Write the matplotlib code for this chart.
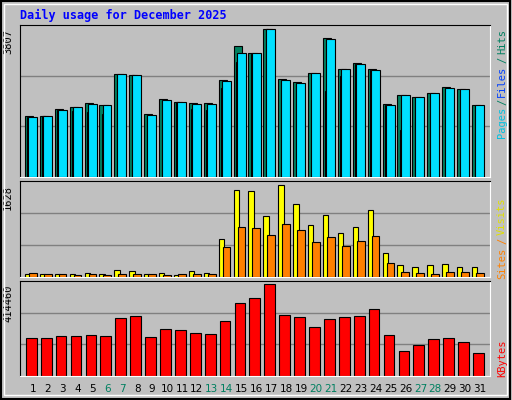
import numpy as np
import matplotlib
matplotlib.use("Agg")
import matplotlib.pyplot as plt
from matplotlib.patches import Rectangle

days = np.arange(1, 32)
hits = [1559, 1559, 1748, 1792, 1895, 1843, 2644, 2618, 1611, 1998, 1921, 1895, 1895, 2489, 3368, 3187,
        3807, 2515, 2437, 2670, 3574, 2773, 2928, 2773, 1869, 2102, 2050, 2153, 2308, 2257, 1843]
files = [1533, 1559, 1714, 1792, 1869, 1843, 2644, 2618, 1585, 1972, 1921, 1869, 1869, 2463, 3187, 3187,
         3807, 2489, 2412, 2670, 3549, 2773, 2903, 2748, 1843, 2102, 2050, 2153, 2282, 2257, 1843]
pages = [1533, 1559, 1714, 1697, 1671, 1619, 2498, 2618, 1585, 1972, 1921, 1748, 1714, 2282, 2963, 3170,
         3807, 2489, 2412, 1981, 2205, 2601, 2903, 2748, 1843, 1206, 1413, 1593, 1671, 1464, 1120]
visits = [59, 59, 59, 59, 76, 59, 129, 112, 59, 76, 41, 112, 76, 676, 1540, 1522,
          1081, 1628, 1293, 923, 1099, 782, 887, 1187, 429, 217, 182, 217, 235, 182, 182]
sites = [76, 59, 59, 41, 59, 41, 59, 59, 59, 41, 59, 59, 59, 535, 887, 870,
         746, 940, 835, 623, 711, 552, 641, 729, 253, 94, 76, 59, 94, 94, 76]
kbytes = [173949, 173949, 183025, 183025, 187562, 183025, 260167, 269243, 178487, 214789, 210251,
          196638, 192100, 246554, 328234, 350923, 414460, 273781, 264705, 219327, 255629, 264705,
          269243, 301007, 187562, 114958, 142184, 169411, 173949, 155798, 105882]
weekend = [6, 7, 13, 14, 20, 21, 27, 28]

BG = "#c0c0c0"
MONO = "DejaVu Sans Mono"
fig = plt.figure(figsize=(5.12, 4.0), dpi=100, facecolor=BG)
fig.patches.append(Rectangle((0.002, 0.003), 0.995, 0.994, transform=fig.transFigure,
                             fill=False, ec="black", lw=1.5))
fig.patches.append(Rectangle((0.008, 0.012), 0.982, 0.978, transform=fig.transFigure,
                             fill=False, ec="white", lw=1.0))

X0, W = 20 / 512, 470 / 512
def mkax(top_px, bot_px, ymax):
    ax = fig.add_axes([X0, 1 - bot_px / 400, W, (bot_px - top_px) / 400])
    ax.set_facecolor(BG)
    ax.set_xlim(0.13, 31.67)
    ax.set_ylim(0, ymax)
    for y in (ymax / 3, 2 * ymax / 3):
        ax.axhline(y, color="#808080", lw=1.0, zorder=0)
    ax.set_xticks([]); ax.set_yticks([])
    for s in ("left", "top"):
        ax.spines[s].set_color("black")
    for s in ("right", "bottom"):
        ax.spines[s].set_color("white")
    return ax

ec = dict(edgecolor="black", linewidth=0.8, align="edge")

ax1 = mkax(25, 177, 3910)
ax1.bar(days - 0.54, hits, 0.55, color="#008060", **ec, zorder=2)
ax1.bar(days - 0.37, pages, 0.17, color="#0040ff", **ec, zorder=3)
ax1.bar(days - 0.33, files, 0.6, color="#00e0ff", **ec, zorder=4)
ax1.text(-0.015, 0.975, "3807", transform=ax1.transAxes, rotation=90, ha="right", va="top",
         fontsize=7.5, family=MONO)

ax2 = mkax(181, 277, 1693)
ax2.bar(days - 0.54, visits, 0.36, color="#ffff00", **ec, zorder=2)
ax2.bar(days - 0.27, sites, 0.52, color="#ff8000", **ec, zorder=3)
ax2.text(-0.015, 0.96, "1628", transform=ax2.transAxes, rotation=90, ha="right", va="top",
         fontsize=7.5, family=MONO)

ax3 = mkax(281, 376, 429586)
ax3.bar(days - 0.47, kbytes, 0.72, color="#ff0000", **ec, zorder=2)
ax3.text(-0.015, 0.96, "414460", transform=ax3.transAxes, rotation=90, ha="right", va="top",
         fontsize=7.5, family=MONO)

for d in days:
    ax3.text(d, -0.14, str(d), transform=ax3.get_xaxis_transform(), ha="center", va="center",
             fontsize=7.5, color="#008060" if d in weekend else "black")

fig.text(20 / 512, 1 - 15 / 400, "Daily usage for December 2025", color="#0000ff",
         fontsize=8.5, fontweight="bold", family=MONO, va="center")

def rlab(y_px, s, c):
    fig.text(502 / 512, 1 - y_px / 400, s, color=c, rotation=90, ha="center", va="center",
             fontsize=7.5, family=MONO)
rlab(122, "Pages", "#00c0e0"); rlab(102, "/", "#008060"); rlab(81, "Files", "#0040ff")
rlab(60, "/", "#008060"); rlab(41, "Hits", "#008060")
rlab(263, "Sites", "#ff8000"); rlab(241, "/", "#ff8000"); rlab(216, "Visits", "#e0e000")
rlab(358, "KBytes", "#ff0000")

fig.savefig("out.png", dpi=100, facecolor=BG)
